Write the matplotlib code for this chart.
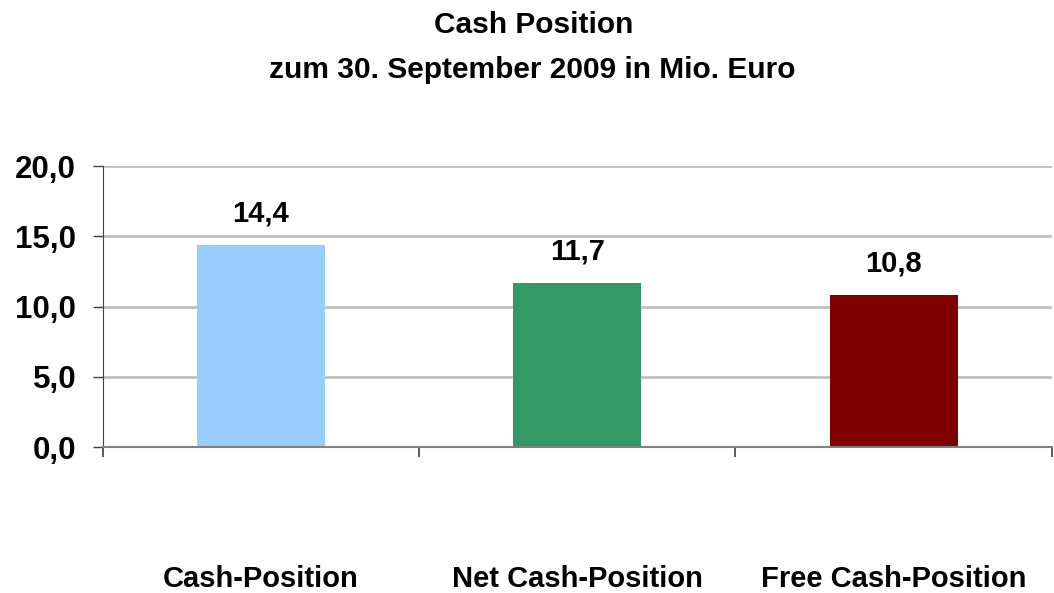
import matplotlib.pyplot as plt
import numpy as np

plt.rcParams['font.family'] = ['Liberation Sans', 'DejaVu Sans']

categories = ['Cash-Position', 'Net Cash-Position', 'Free Cash-Position']
values = [14.4, 11.7, 10.8]
bar_colors = ['#99CCFF', '#339966', '#800000']
yticks = [0, 5, 10, 15, 20]
title_lines = ['Cash Position', 'zum 30. September 2009 in Mio. Euro']


def de_fmt(v):
    return ('%.1f' % v).replace('.', ',')


fig = plt.figure(figsize=(10.54, 5.93), dpi=100)
ax = fig.add_axes([0.0973, 0.2462, 0.9007, 0.4738])

x = np.arange(len(categories))
ax.bar(x, values, width=0.405, color=bar_colors, zorder=2)

for xi, v in zip(x, values):
    ax.annotate(de_fmt(v), (xi, v), xytext=(0, 17), textcoords='offset points',
                ha='center', va='baseline', fontsize=21, fontweight='bold')

ax.set_xlim(-0.5, 2.5)
ax.set_ylim(0, 20)
ax.set_yticks(yticks)
ax.set_yticklabels([de_fmt(t) for t in yticks], fontsize=22.5, fontweight='bold')
ax.yaxis.grid(True, color='#c0c0c0', lw=2, zorder=0)
ax.tick_params(axis='y', length=7, width=1, color='#404040', pad=12)

# category boundaries as ticks, names placed well below the axis
ax.set_xticks([-0.5, 0.5, 1.5, 2.5])
ax.set_xticklabels([])
ax.tick_params(axis='x', length=7, width=1.2, color='#404040')
for xi, name in zip(x, categories):
    ax.text(xi, -0.47, name, transform=ax.get_xaxis_transform(),
            ha='center', va='center', fontsize=21, fontweight='bold')

for s in ['top', 'right']:
    ax.spines[s].set_visible(False)
ax.spines['left'].set_color('#404040')
ax.spines['bottom'].set_color('#808080')
ax.spines['bottom'].set_linewidth(1.5)

fig.text(0.506, 0.944, title_lines[0], ha='center', va='baseline', fontsize=21.5,
         fontweight='bold')
fig.text(0.505, 0.868, title_lines[1], ha='center', va='baseline', fontsize=21.5,
         fontweight='bold')

plt.savefig('out.png', dpi=100)
